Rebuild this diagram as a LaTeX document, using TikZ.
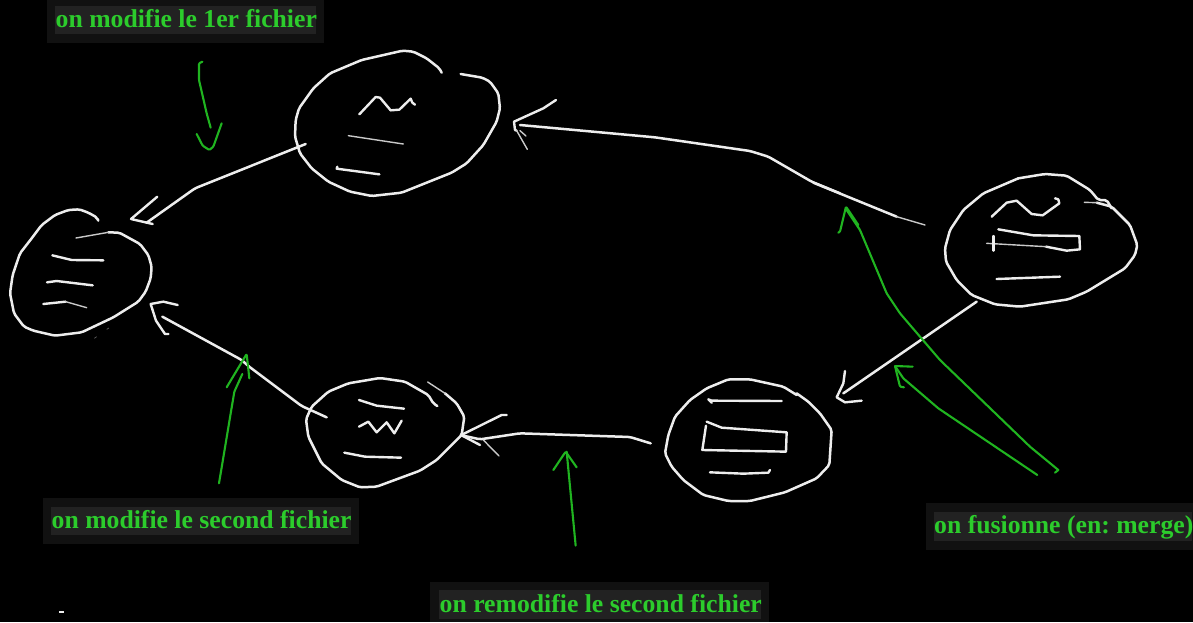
\documentclass[tikz,border=0pt]{standalone}
\usepackage{fontspec}
\setmainfont{Liberation Serif}
\definecolor{inkw}{HTML}{EDEDED}
\definecolor{inkg}{HTML}{20B420}
\definecolor{txtg}{HTML}{2CCC2C}
\definecolor{boxa}{HTML}{111111}
\definecolor{boxb}{HTML}{222222}
\tikzset{
  chalk/.style={draw=inkw,line width=2.5pt,line cap=round,line join=round,rounded corners=2pt},
  inner/.style={draw=inkw,line width=2.4pt,line cap=round,line join=round},
  thinchalk/.style={draw=inkw!85!black,line width=1.4pt,line cap=round,line join=round},
  gstroke/.style={draw=inkg,line width=2.1pt,line cap=round,line join=round,rounded corners=1pt},
  lbl/.style={text=txtg,font=\bfseries\fontsize{25.7}{25.7}\selectfont\frenchspacing,inner sep=0pt,anchor=base west},
  zoomframe/.style={x=0.33333pt,y=-0.33333pt}
}
\begin{document}
\begin{tikzpicture}[x=1pt,y=-1pt]
\useasboundingbox (0,0) rectangle (1193,622);
\fill[black] (0,0) rectangle (1193,622);
% label plates
\fill[boxa] (47,0) rectangle (324,43);
\fill[boxb] (55,6) rectangle (316,34);
\fill[boxa] (43,498) rectangle (359,544);
\fill[boxb] (51,507) rectangle (351,535);
\fill[boxa] (430,582) rectangle (769,622);
\fill[boxb] (439,590) rectangle (761,619);
\fill[boxa] (926,503) rectangle (1193,550);
\fill[boxb] (934,512) rectangle (1192,541);
\node[lbl] (t1) at (55.5,27) {on modifie le 1er fichier};
\node[lbl] (t2) at (51.5,528) {on modifie le second fichier};
\node[lbl] (t3) at (439.5,612) {on remodifie le second fichier};
\node[lbl] (t4) at (934,533.5) {on fusionne (en: merge)};
% top-left
\begin{scope}[zoomframe]
\draw[chalk] (1325,218)--(1318,205)--(1280,175)--(1240,155)--(1208,152)--(1085,180)--(990,220)--(940,265)--(897,325)--(887,360)--(885,410)--(900,460)--(935,505)--(985,545)--(1050,575)--(1115,588)--(1205,578)--(1355,518)--(1400,490)--(1450,435)--(1490,365)--(1500,325)--(1495,280)--(1470,245)--(1447,233)--(1382,222);
\draw[inner] (1078,343)--(1127,291)--(1140,293)--(1172,331)--(1198,329)--(1232,296)--(1237,308)--(1245,314);
\draw[thinchalk] (1045,407)--(1210,432);
\draw[inner] (1012,500)--(1010,506)--(1138,523);
\draw[chalk] (295,662)--(290,652)--(265,638)--(238,628)--(205,630)--(165,645)--(125,675)--(95,715)--(60,760)--(38,825)--(30,880)--(42,940)--(72,980)--(100,992)--(165,1007)--(245,997)--(340,952)--(415,905)--(437,875)--(452,835)--(455,800)--(445,765)--(420,732)--(358,698)--(325,697);
\draw[thinchalk] (325,697)--(228,714);
\draw[inner] (157,766)--(215,780)--(310,781);
\draw[inner] (141,847)--(170,843)--(278,856);
\draw[inner] (130,912)--(197,905);
\draw[thinchalk] (197,905)--(260,923);
\draw[draw=inkw!40!black,line width=.7pt] (283,1015)--(290,1010) (320,988)--(327,984);
\draw[chalk] (917,432)--(585,565)--(440,668);
\draw[inner] (472,590)--(393,657)--(458,672);
\draw[gstroke] (607,185)--(597,190)--(597,240)--(620,340)--(632,383);
\draw[gstroke] (590,402)--(608,437)--(628,450)--(640,440)--(665,370);
\end{scope}
% bottom-left
\begin{scope}[zoomframe,shift={(0,900)}]
\draw[chalk] (980,352)--(905,318)--(745,198)--(725,180)--(487,50);
\draw[inner] (533,15)--(490,5)--(452,12)--(468,62)--(495,102)--(505,102);
\draw[chalk] (1312,318)--(1300,310)--(1285,285)--(1215,245)--(1140,234)--(1045,250)--(985,275)--(935,320)--(918,358)--(925,410)--(965,490)--(1025,540)--(1080,562)--(1130,560)--(1260,512)--(1310,480)--(1385,405)--(1393,350)--(1370,310)--(1335,280);
\draw[thinchalk] (1335,280)--(1283,246);
\draw[inner] (1077,300)--(1130,317)--(1212,326);
\draw[inner] (1077,380)--(1105,365)--(1130,397)--(1160,367)--(1183,400)--(1205,362);
\draw[inner] (1033,458)--(1095,470)--(1203,473);
\draw[gstroke] (657,550)--(703,275)--(727,222);
\draw[gstroke] (680,262)--(740,162)--(748,235);
\draw[draw=inkw,line width=1.2pt] (177,936)--(193,936);
\end{scope}
% bottom-middle
\begin{scope}[zoomframe,shift={(1260,1080)}]
\draw[chalk] (692,250)--(630,231)--(300,220)--(180,238)--(125,226);
\draw[inner] (260,165)--(245,165)--(130,222)--(125,226)--(180,255);
\draw[thinchalk] (190,240)--(237,288);
\draw[chalk] (1130,105)--(1090,80)--(990,58)--(925,58)--(860,85)--(810,120)--(765,170)--(745,225)--(735,280)--(755,320)--(790,360)--(850,405)--(925,423)--(990,423)--(1095,397)--(1190,355)--(1228,315)--(1235,210)--(1200,160)--(1165,125)--(1130,100);
\draw[inner] (875,128)--(865,118)--(875,122)--(1085,123);
\draw[inner] (860,185)--(905,203)--(1100,217)--(1098,275)--(847,270)--(858,197);
\draw[inner] (870,337)--(970,341)--(1045,338)--(1050,330);
\draw[gstroke] (467,557)--(440,275);
\draw[gstroke] (400,330)--(437,275)--(470,322);
\end{scope}
% right
\begin{scope}[zoomframe,shift={(2400,480)}]
\draw[chalk] (530,425)--(130,700);
\draw[inner] (135,633)--(130,670)--(110,712)--(135,727)--(185,722);
\draw[chalk] (655,55)--(735,42)--(800,47)--(870,90)--(895,120)--(920,120)--(935,145);
\draw[chalk] (655,55)--(550,100)--(490,150)--(450,210)--(435,265)--(438,305)--(470,360)--(515,405)--(585,433)--(660,440)--(805,418)--(860,395)--(975,325)--(1005,285)--(1012,255)--(990,195)--(935,140)--(890,128);
\draw[thinchalk] (890,128)--(853,127);
\draw[inner] (575,170)--(620,128)--(650,122)--(695,162)--(728,166)--(778,130)--(775,118)--(765,115);
\draw[inner] (595,208)--(700,226)--(838,228)--(840,268)--(800,272)--(738,260);
\draw[thinchalk] (738,260)--(560,250);
\draw[inner] (580,228)--(580,272);
\draw[inner] (590,357)--(780,350);
\draw[chalk] (290,170)--(40,68);
\draw[thinchalk] (375,195)--(290,170);
\draw[gstroke] (775,930)--(690,860)--(420,600)--(300,460)--(260,400)--(180,210)--(140,150);
\draw[gstroke] (765,938)--(775,930);
\draw[gstroke] (115,218)--(120,215)--(138,140)--(175,195);
\draw[gstroke] (712,945)--(415,745)--(310,655)--(285,618);
\draw[gstroke] (338,620)--(285,618)--(300,680)--(312,682);
\end{scope}
% top-middle arrow
\begin{scope}[zoomframe,shift={(1500,270)}]
\draw[chalk] (1020,310)--(935,275)--(805,200)--(750,183)--(465,142)--(60,105);
\draw[inner] (168,30)--(130,55)--(42,95)--(45,120)--(50,122);
\draw[thinchalk] (50,122)--(82,178) (60,122)--(78,138);
\end{scope}
\end{tikzpicture}
\end{document}
